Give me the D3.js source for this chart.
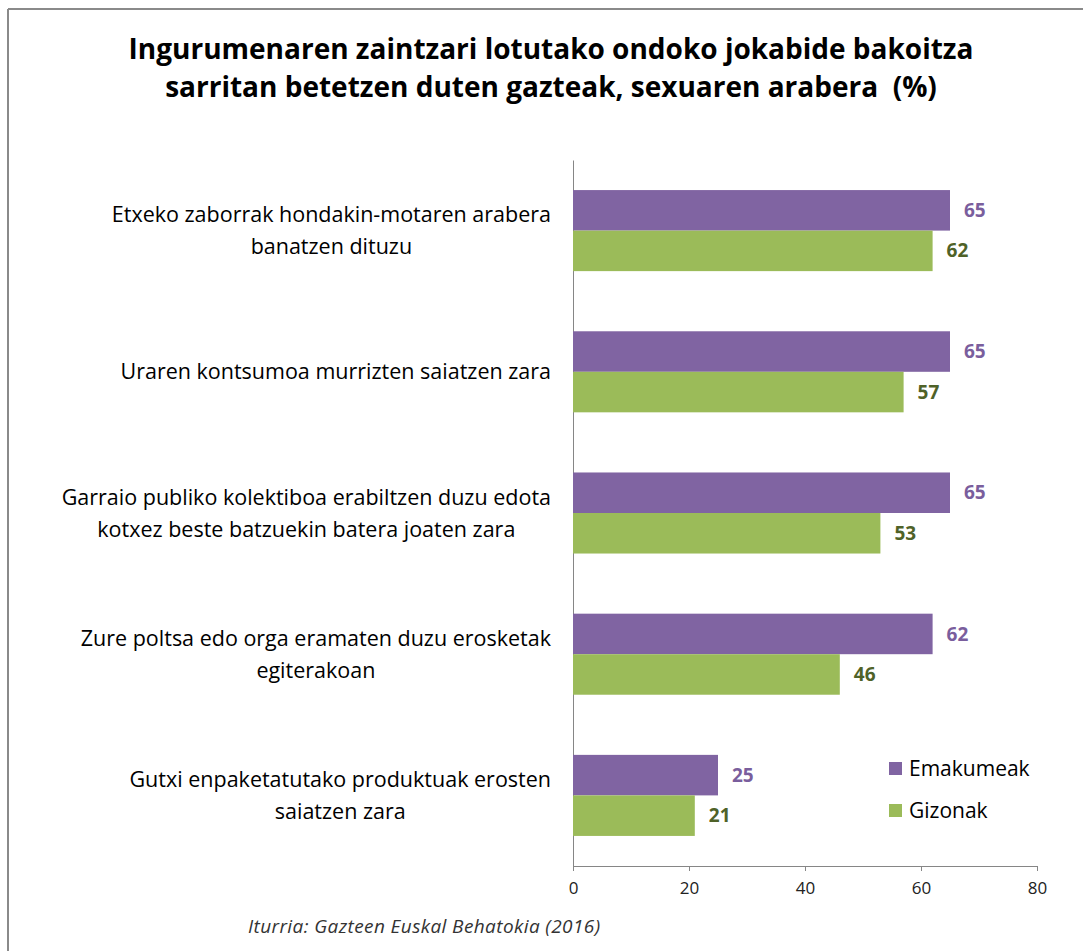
<!DOCTYPE html>
<html lang="eu">
  <head>
    <meta charset="UTF-8" />
    <title>Ingurumenaren zaintzari lotutako jokabideak</title>
    <style>
      body { margin: 0; background: #fff; }
      text { font-family: "Open Sans", sans-serif; }
    </style>
  </head>
  <body>
    <svg id="svg" width="1083" height="951"></svg>
    <script src="https://d3js.org/d3.v7.min.js"></script>
    <script>
      // data
      const categories = [
        ["Etxeko zaborrak hondakin-motaren arabera", "banatzen dituzu"],
        ["Uraren kontsumoa murrizten saiatzen zara"],
        ["Garraio publiko kolektiboa erabiltzen duzu edota", "kotxez beste batzuekin batera joaten zara"],
        ["Zure poltsa edo orga eramaten duzu erosketak", "egiterakoan"],
        ["Gutxi enpaketatutako produktuak erosten", "saiatzen zara"]
      ];
      const seriesNames = ["Emakumeak", "Gizonak"];
      const emakumeak = [65, 65, 65, 62, 25];
      const gizonak = [62, 57, 53, 46, 21];
      const xTicks = [0, 20, 40, 60, 80];
      const titleLines = [
        "Ingurumenaren zaintzari lotutako ondoko jokabide bakoitza",
        "sarritan betetzen duten gazteak, sexuaren arabera  (%)"
      ];
      const source = "Iturria: Gazteen Euskal Behatokia (2016)";

      const barColors = ["#8064A2", "#9BBB59"];
      const labelColors = ["#7A5E9D", "#4F6228"];

      const svg = d3.select("#svg");
      const plotLeft = 573, plotRight = 1037, plotTop = 160, plotBottom = 866;

      // frame (top and left edges visible)
      svg.append("line").attr("x1", 8).attr("x2", 1083).attr("y1", 9).attr("y2", 9)
        .attr("stroke", "#8a8a8a").attr("stroke-width", 2);
      svg.append("line").attr("x1", 8).attr("x2", 8).attr("y1", 9).attr("y2", 951)
        .attr("stroke", "#8a8a8a").attr("stroke-width", 2);

      // title
      svg.append("g").selectAll("text")
        .data(titleLines)
        .enter()
        .append("text")
        .attr("x", 551)
        .attr("y", (d, i) => 59 + i * 38)
        .attr("text-anchor", "middle")
        .attr("font-size", "28px")
        .attr("font-weight", "bold")
        .attr("fill", "#000")
        .style("white-space", "pre")
        .text((d) => d);

      const x = d3.scaleLinear().domain([0, 80]).range([plotLeft, plotRight]);
      const idx = d3.range(categories.length);
      const y = d3.scaleBand().domain(idx).range([plotTop, plotBottom])
        .paddingInner(0.426).paddingOuter(0.213);
      const ySub = d3.scaleBand().domain([0, 1]).range([0, y.bandwidth()]);

      // x axis
      const xAxis = svg.append("g")
        .attr("transform", `translate(0,${plotBottom})`)
        .call(d3.axisBottom(x).tickValues(xTicks).tickSize(5).tickPadding(11));
      xAxis.select(".domain").attr("stroke", "#868686");
      xAxis.selectAll(".tick line").attr("stroke", "#868686");
      xAxis.selectAll(".tick text")
        .attr("font-family", "'Open Sans', sans-serif")
        .attr("font-size", "17px")
        .attr("fill", "#222");

      // y axis line
      svg.append("g")
        .attr("transform", `translate(${plotLeft},0)`)
        .call(d3.axisLeft(y).tickSize(0).tickFormat(""))
        .select(".domain").attr("stroke", "#868686");

      // bars
      const values = [emakumeak, gizonak];
      const groups = svg.append("g").selectAll("g")
        .data(idx)
        .enter()
        .append("g")
        .attr("transform", (i) => `translate(0,${y(i)})`);

      groups.selectAll("rect")
        .data((i) => values.map((v, s) => ({ s: s, v: v[i] })))
        .enter()
        .append("rect")
        .attr("x", x(0))
        .attr("y", (d) => ySub(d.s))
        .attr("width", (d) => x(d.v) - x(0))
        .attr("height", ySub.bandwidth())
        .attr("fill", (d) => barColors[d.s]);

      groups.selectAll("text.val")
        .data((i) => values.map((v, s) => ({ s: s, v: v[i] })))
        .enter()
        .append("text")
        .attr("class", "val")
        .attr("x", (d) => x(d.v) + 14)
        .attr("y", (d) => ySub(d.s) + ySub.bandwidth() / 2)
        .attr("dy", "0.35em")
        .attr("font-size", "19px")
        .attr("font-weight", "bold")
        .attr("fill", (d) => labelColors[d.s])
        .text((d) => d.v);

      // category labels: block right-aligned, lines centred inside it
      const catG = svg.append("g");
      categories.forEach((lines, i) => {
        const g = catG.append("g");
        const texts = g.selectAll("text")
          .data(lines)
          .enter()
          .append("text")
          .attr("font-size", "21.5px")
          .attr("fill", "#000")
          .attr("text-anchor", "middle")
          .text((d) => d);
        const w = d3.max(texts.nodes(), (n) => n.getComputedTextLength());
        const cy = y(i) + y.bandwidth() / 2;
        texts
          .attr("x", 551 - w / 2)
          .attr("y", (d, j) => cy + (j - (lines.length - 1) / 2) * 32)
          .attr("dy", "0.35em");
      });

      // legend
      const legend = svg.append("g").selectAll("g")
        .data(seriesNames)
        .enter()
        .append("g")
        .attr("transform", (d, i) => `translate(889,${762 + i * 42})`);
      legend.append("rect").attr("width", 13).attr("height", 13)
        .attr("fill", (d, i) => barColors[i]);
      legend.append("text").attr("x", 20).attr("y", 7).attr("dy", "0.35em")
        .attr("font-size", "21px").attr("fill", "#000").text((d) => d);

      // source
      svg.append("text")
        .attr("x", 248).attr("y", 933)
        .attr("font-size", "19px")
        .attr("font-style", "italic")
        .attr("letter-spacing", "0.4px")
        .attr("fill", "#333")
        .text(source);
    </script>
  </body>
</html>
